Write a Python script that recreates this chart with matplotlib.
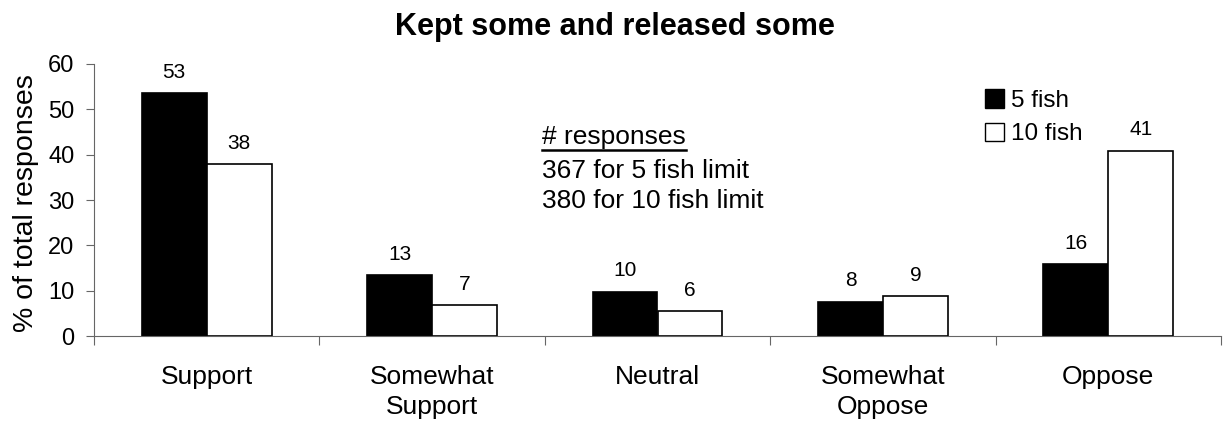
import numpy as np
import matplotlib
matplotlib.use("Agg")
import matplotlib.pyplot as plt
from matplotlib.patches import Patch
from matplotlib.lines import Line2D

plt.rcParams['font.family'] = ['Liberation Sans', 'DejaVu Sans']

### data
categories = ["Support", "Somewhat\nSupport", "Neutral", "Somewhat\nOppose", "Oppose"]
five_fish = [53.6, 13.4, 9.8, 7.6, 15.8]
ten_fish = [37.9, 6.8, 5.5, 8.9, 40.9]
five_labels = ["53", "13", "10", "8", "16"]
ten_labels = ["38", "7", "6", "9", "41"]
series_names = ["5 fish", "10 fish"]
note_lines = ["# responses", "367 for 5 fish limit", "380 for 10 fish limit"]

W, H = 1231, 423
fig = plt.figure(figsize=(W/100, H/100), dpi=100)
ax = fig.add_axes([94/W, 1 - 336/H, (1221 - 94)/W, (336 - 64)/H])

x = np.arange(len(categories)) + 0.5
w = 0.288
b1 = ax.bar(x - w/2, five_fish, w, color='black', edgecolor='black', linewidth=1.2)
b2 = ax.bar(x + w/2, ten_fish, w, color='white', edgecolor='black', linewidth=1.2)

for bars, labels in ((b1, five_labels), (b2, ten_labels)):
    for r, lab in zip(bars, labels):
        ax.annotate(lab, (r.get_x() + r.get_width()/2, r.get_height()),
                    xytext=(0, 8), textcoords='offset points',
                    ha='center', va='bottom', fontsize=15)

ax.set_xlim(0, len(categories))
ax.set_ylim(0, 60)
ax.set_yticks(np.arange(0, 61, 10))
ax.tick_params(axis='y', labelsize=17, length=6, direction='out', pad=8)
ax.set_xticks(np.arange(0, len(categories) + 1))
ax.set_xticklabels([])
ax.tick_params(axis='x', which='major', length=6.5, direction='out')
ax.set_xticks(x, minor=True)
ax.set_xticklabels(categories, minor=True, fontsize=19, linespacing=1.3)
ax.tick_params(axis='x', which='minor', length=0, pad=21)
for s in ['top', 'right']:
    ax.spines[s].set_visible(False)
for s in ['left', 'bottom']:
    ax.spines[s].set_color('#666666')
ax.tick_params(colors='#666666', labelcolor='black', which='both')
ax.set_ylabel("% of total responses", fontsize=20.5)
ax.yaxis.set_label_coords(-0.049, 0.49)

fig.text(615/W, 1 - 35/H, "Kept some and released some",
         ha='center', va='baseline', fontsize=22, fontweight='bold')

handles = [Patch(facecolor='black', edgecolor='black'),
           Patch(facecolor='white', edgecolor='black')]
fig.legend(handles, series_names, loc='upper left',
           bbox_to_anchor=(985/W, 1 - 89/H), frameon=False,
           fontsize=17.5, handlelength=0.8, handleheight=0.8,
           handletextpad=0.25, labelspacing=0.45, borderpad=0,
           borderaxespad=0)

baselines = [144, 178, 208]
texts = []
for line, yy in zip(note_lines, baselines):
    texts.append(fig.text(542/W, 1 - yy/H, line, ha='left', va='baseline',
                          fontsize=19))

# underline the first line
fig.canvas.draw()
bb = texts[0].get_window_extent()
fig.add_artist(Line2D([bb.x0/W, bb.x1/W], [1 - 150/H, 1 - 150/H],
                      transform=fig.transFigure, color='black', linewidth=1.8))

fig.savefig("out.png", dpi=100)
